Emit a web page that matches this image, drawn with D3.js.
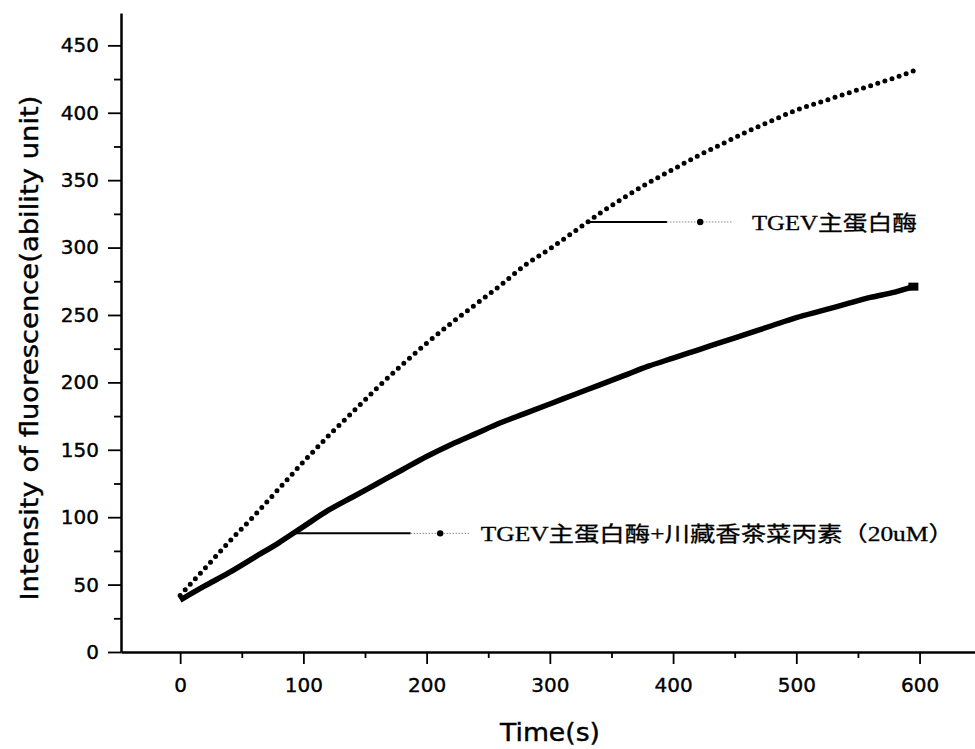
<!DOCTYPE html>
<html>
<head>
<meta charset="utf-8">
<script src="https://cdn.jsdelivr.net/npm/d3@7"></script>
<style>
  body { margin: 0; background: #fff; }
  text { fill: #000; }
</style>
</head>
<body>
<div id="myVis"></div>
<script>
// data
const times = [0, 20, 40, 60, 80, 100, 120, 140, 160, 180, 200, 220, 240, 260, 280, 300,
               320, 340, 360, 380, 400, 420, 440, 460, 480, 500, 520, 540, 560, 580, 595]
const enzyme = [42, 62, 82, 101, 121, 141, 160, 178, 196, 213, 229, 244, 258, 272, 287, 299,
                312, 325, 337, 348, 358, 368, 377, 386, 394, 402, 408, 414, 420, 426, 431]
const inhibited = [38.5, 49, 59, 70, 81, 93, 105, 115, 125, 135, 145, 154, 162, 170, 177, 184,
                   191, 198, 205, 212, 218, 224, 230, 236, 242, 248, 253, 258, 263, 267, 271]

const xTicks = [0, 100, 200, 300, 400, 500, 600]
const xMinor = [50, 150, 250, 350, 450, 550]
const yTicks = [0, 50, 100, 150, 200, 250, 300, 350, 400, 450]
const yMinor = [25, 75, 125, 175, 225, 275, 325, 375, 425]

const labelNames = ["TGEV主蛋白酶", "TGEV主蛋白酶+川藏香茶菜丙素（20uM）"]
const labelAnchor = [332.5, 89]     // time where the leader touches the curve
const labelValue = [319, 88]

var width = 975, height = 749

const svg = d3.select("#myVis")
    .append("svg")
        .attr("width", width)
        .attr("height", height)

var xScale = d3.scaleLinear()
    .domain([-48, 645])
    .range([121, 975])

var yScale = d3.scaleLinear()
    .domain([0, 474])
    .range([652, 13])

// minor ticks first, then major axes over them
svg.append("g")
    .attr("transform", "translate(0,652)")
    .call(d3.axisBottom(xScale).tickValues(xMinor).tickSize(6).tickFormat(""))
    .call(g => g.select(".domain").remove())

svg.append("g")
    .attr("transform", "translate(121,0)")
    .call(d3.axisLeft(yScale).tickValues(yMinor).tickSize(7).tickFormat(""))
    .call(g => g.select(".domain").remove())

var xAxis = svg.append("g")
    .attr("transform", "translate(0,652)")
    .call(d3.axisBottom(xScale).tickValues(xTicks).tickSize(12).tickSizeOuter(0).tickPadding(10))

var yAxis = svg.append("g")
    .attr("transform", "translate(121,0)")
    .call(d3.axisLeft(yScale).tickValues(yTicks).tickSize(13).tickSizeOuter(0).tickPadding(9))

svg.selectAll(".tick line").attr("stroke", "#000").attr("stroke-width", 1.8)
svg.selectAll(".domain").attr("stroke", "#000").attr("stroke-width", 2.5)
svg.selectAll(".tick text")
    .attr("font-family", "DejaVu Sans")
    .attr("font-size", 20)
    .attr("fill", "#000")
    .attr("stroke", "#000")
    .attr("stroke-width", 0.4)
xAxis.selectAll(".tick text").attr("dy", "0.9em")

// axis titles
svg.append("text")
    .attr("x", 550)
    .attr("y", 741)
    .attr("text-anchor", "middle")
    .attr("font-family", "DejaVu Sans")
    .attr("font-size", 24)
    .attr("stroke", "#000")
    .attr("stroke-width", 0.4)
    .attr("textLength", 100)
    .attr("lengthAdjust", "spacingAndGlyphs")
    .text("Time(s)")

svg.append("text")
    .attr("transform", "translate(38,348) rotate(-90)")
    .attr("text-anchor", "middle")
    .attr("font-family", "DejaVu Sans")
    .attr("font-size", 24)
    .attr("stroke", "#000")
    .attr("stroke-width", 0.4)
    .attr("textLength", 505)
    .attr("lengthAdjust", "spacingAndGlyphs")
    .text("Intensity of fluorescence(ability unit)")

// curves
var line = d3.line()
    .x((d, i) => xScale(times[i]))
    .y(d => yScale(d))
    .curve(d3.curveMonotoneX)

svg.append("path")
    .datum(inhibited)
    .attr("d", line)
    .attr("fill", "none")
    .attr("stroke", "#000")
    .attr("stroke-width", 5.5)
    .attr("stroke-linejoin", "round")

svg.append("rect")
    .attr("x", xScale(times[times.length - 1]) - 5)
    .attr("y", yScale(inhibited[inhibited.length - 1]) - 4)
    .attr("width", 10)
    .attr("height", 8)
    .attr("fill", "#000")

svg.append("path")
    .datum(enzyme)
    .attr("d", line)
    .attr("fill", "none")
    .attr("stroke", "#000")
    .attr("stroke-width", 5)
    .attr("stroke-linecap", "round")
    .attr("stroke-dasharray", "0,7.5")

// leader lines and labels (positions in data units)
const solidEnd = [395, 187]
const dotAt = [422, 211]
const dottedEnd = [448, 235]
const textStart = [464, 244]
const textWidth = [165, 473]

labelNames.forEach((name, i) => {
    var y = yScale(labelValue[i])
    svg.append("line")
        .attr("x1", xScale(labelAnchor[i])).attr("x2", xScale(solidEnd[i]))
        .attr("y1", y).attr("y2", y)
        .attr("stroke", "#000").attr("stroke-width", 2)
    svg.append("line")
        .attr("x1", xScale(solidEnd[i])).attr("x2", xScale(dottedEnd[i]))
        .attr("y1", y).attr("y2", y)
        .attr("stroke", "#888").attr("stroke-width", 1)
        .attr("stroke-dasharray", "1.5,1.5")
    svg.append("circle")
        .attr("cx", xScale(dotAt[i])).attr("cy", y)
        .attr("r", 3.2).attr("fill", "#000")
    svg.append("text")
        .attr("x", xScale(textStart[i]))
        .attr("y", y)
        .attr("dy", "0.36em")
        .attr("font-family", "'Liberation Serif', 'Noto Sans CJK SC'")
        .attr("font-size", 21)
        .attr("stroke", "#000")
        .attr("stroke-width", 0.3)
        .attr("textLength", textWidth[i])
        .attr("lengthAdjust", "spacingAndGlyphs")
        .text(name)
})
</script>
</body>
</html>
